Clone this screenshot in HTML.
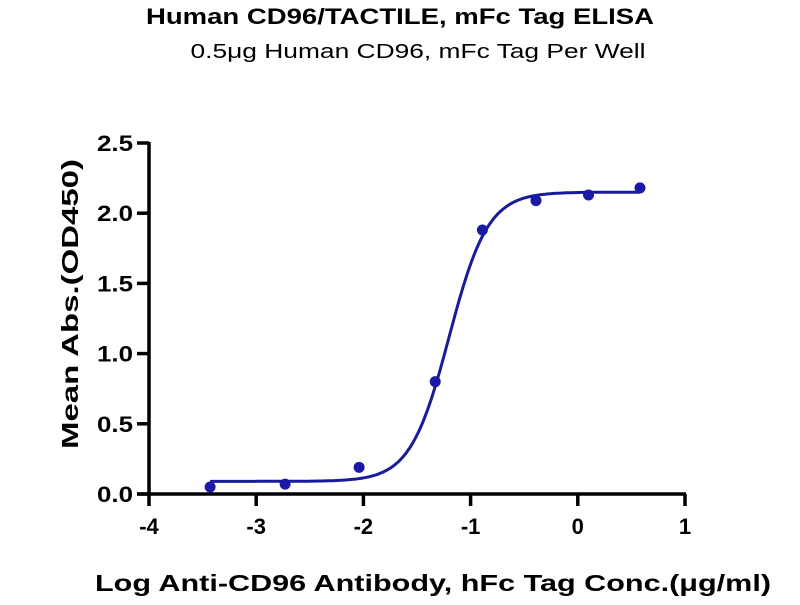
<!DOCTYPE html>
<html><head><meta charset="utf-8"><style>
body{margin:0;background:#fff;}
svg text{font-family:"Liberation Sans",Arial,sans-serif;}
</style></head><body>
<svg id="chart" width="800" height="600">
<text x="400" y="24" text-anchor="middle" font-size="22" font-weight="bold" textLength="508" lengthAdjust="spacingAndGlyphs">Human CD96/TACTILE, mFc Tag ELISA</text>
<text x="418" y="58" text-anchor="middle" font-size="20" textLength="455" lengthAdjust="spacingAndGlyphs">0.5μg Human CD96, mFc Tag Per Well</text>
<text transform="translate(78,304) rotate(-90)" text-anchor="middle" font-size="23" font-weight="bold" textLength="290" lengthAdjust="spacingAndGlyphs">Mean Abs.(OD450)</text>
<text x="433" y="591" text-anchor="middle" font-size="23" font-weight="bold" textLength="676" lengthAdjust="spacingAndGlyphs">Log Anti-CD96 Antibody, hFc Tag Conc.(μg/ml)</text>
<g id="axes"></g><g id="marks"></g>
</svg>
<script>
const xTicks=[-4,-3,-2,-1,0,1];
const yTicks=[0.0,0.5,1.0,1.5,2.0,2.5];
const logConc=[-3.43,-2.73,-2.04,-1.33,-0.89,-0.39,0.10,0.58];
const absValues=[0.05,0.07,0.19,0.80,1.88,2.09,2.13,2.18];
const fitBottom=[0.09];const fitTop=[2.15];const fitLogEC50=[-1.2];const fitHill=[2.4];
const NS='http://www.w3.org/2000/svg';
const X=v=>149+(v+4)*107.2;
const Y=v=>494-v*140.4;
function mk(t,a,p){const e=document.createElementNS(NS,t);for(const k in a)e.setAttribute(k,a[k]);p.appendChild(e);return e;}
const ax=document.getElementById('axes'),mg=document.getElementById('marks');
let l=mk('line',{x1:149,y1:Y(2.5)-1,x2:149,y2:496,stroke:'#000','stroke-width':3.5},ax);


l=mk('line',{x1:137,y1:494,x2:X(1)+1,y2:494,stroke:'#000','stroke-width':3.5},ax);


yTicks.forEach(v=>{const t=mk('line',{x1:137,y1:Y(v),x2:149,y2:Y(v),stroke:'#000','stroke-width':3.5},ax);


const s=mk('text',{x:133,y:Y(v)+8,'text-anchor':'end','font-size':22,'font-weight':'bold',textLength:36,lengthAdjust:'spacingAndGlyphs'},ax);s.textContent=v.toFixed(1);

});
xTicks.forEach(v=>{const t=mk('line',{x1:X(v),y1:494,x2:X(v),y2:506,stroke:'#000','stroke-width':3.5},ax);


const s=mk('text',{x:X(v),y:534,'text-anchor':'middle','font-size':22,'font-weight':'bold'},ax);s.textContent=String(v);

});
const f=x=>fitBottom[0]+(fitTop[0]-fitBottom[0])/(1+Math.pow(10,(fitLogEC50[0]-x)*fitHill[0]));
let d='';const x0=logConc[0],x1=logConc[logConc.length-1];
for(let i=0;i<=200;i++){const x=x0+(x1-x0)*i/200;d+=(i?'L':'M')+X(x).toFixed(1)+','+Y(f(x)).toFixed(1);}
const c=mk('path',{d:d,fill:'none',stroke:'#1a1a9c','stroke-width':3},mg);


logConc.forEach((x,i)=>{const p=mk('circle',{cx:X(x),cy:Y(absValues[i]),r:5.5,fill:'#1a1aa8'},mg);

});
</script>
</body></html>
